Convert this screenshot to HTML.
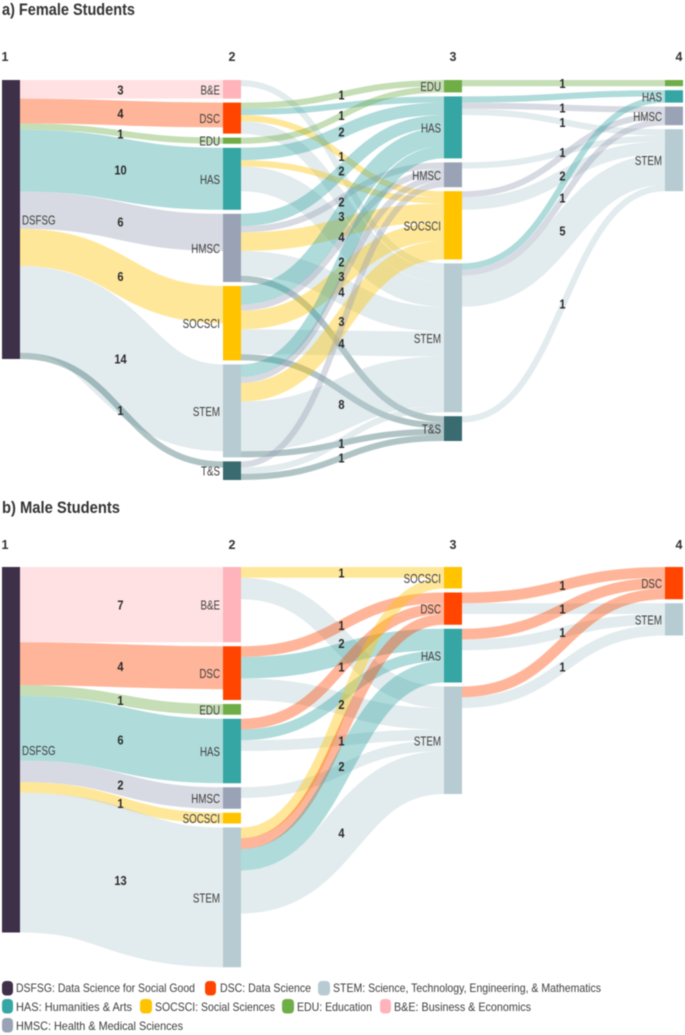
<!DOCTYPE html>
<html lang="en">
<head>
<meta charset="utf-8">
<title>Female and Male Student Pathways</title>
<style>
html,body{margin:0;padding:0;background:#fff;}
body{width:685px;height:1035px;overflow:hidden;}
svg{display:block;filter:blur(0.4px);font-family:"Liberation Sans",sans-serif;}
.title{font-size:17px;font-weight:700;fill:#333;}
.stage{font-size:12.5px;font-weight:700;fill:#333;}
.node-label{font-size:12.5px;fill:#3d3d3d;}
.flow-label{font-size:13px;font-weight:700;fill:#2b2b2b;}
.legend{font-size:12px;fill:#3d3d3d;}
</style>
</head>
<body>
<svg id="chart" width="685" height="1035" viewBox="0 0 685 1035" xmlns="http://www.w3.org/2000/svg">
  <text class="title" x="2" y="15" textLength="133" lengthAdjust="spacingAndGlyphs">a) Female Students</text>
  <text class="title" x="2" y="513" textLength="118" lengthAdjust="spacingAndGlyphs">b) Male Students</text>
  <g id="female-panel"></g>
  <g id="male-panel"></g>
  <g id="legend">
    <g><rect x="2" y="981" width="11" height="14.5" rx="4" fill="#3e3049"/><text class="legend" x="16" y="992" textLength="179" lengthAdjust="spacingAndGlyphs">DSFSG: Data Science for Social Good</text></g>
    <g><rect x="205" y="981" width="11" height="14.5" rx="4" fill="#ff4500"/><text class="legend" x="220" y="992" textLength="91" lengthAdjust="spacingAndGlyphs">DSC: Data Science</text></g>
    <g><rect x="318" y="981" width="12" height="14.5" rx="4" fill="#b6ccd2"/><text class="legend" x="333" y="992" textLength="268" lengthAdjust="spacingAndGlyphs">STEM: Science, Technology, Engineering, &amp; Mathematics</text></g>
    <g><rect x="2" y="999" width="11" height="14.5" rx="4" fill="#36a6a5"/><text class="legend" x="16" y="1011" textLength="116" lengthAdjust="spacingAndGlyphs">HAS: Humanities &amp; Arts</text></g>
    <g><rect x="140" y="999" width="12" height="14.5" rx="4" fill="#ffc300"/><text class="legend" x="155" y="1011" textLength="120" lengthAdjust="spacingAndGlyphs">SOCSCI: Social Sciences</text></g>
    <g><rect x="282" y="999" width="12" height="14.5" rx="4" fill="#6fad47"/><text class="legend" x="297" y="1011" textLength="75" lengthAdjust="spacingAndGlyphs">EDU: Education</text></g>
    <g><rect x="380" y="999" width="11" height="14.5" rx="4" fill="#ffb3ba"/><text class="legend" x="394" y="1011" textLength="137" lengthAdjust="spacingAndGlyphs">B&amp;E: Business &amp; Economics</text></g>
    <g><rect x="2" y="1018" width="11" height="14.5" rx="4" fill="#9aa3b6"/><text class="legend" x="16" y="1030" textLength="167" lengthAdjust="spacingAndGlyphs">HMSC: Health &amp; Medical Sciences</text></g>
  </g>
</svg>
<script>
// Stage categories, top to bottom
const femaleColumns = [
  ['DSFSG'],
  ['B&E','DSC','EDU','HAS','HMSC','SOCSCI','STEM','T&S'],
  ['EDU','HAS','HMSC','SOCSCI','STEM','T&S'],
  ['EDU','HAS','HMSC','STEM']
];
const maleColumns = [
  ['DSFSG'],
  ['B&E','DSC','EDU','HAS','HMSC','SOCSCI','STEM'],
  ['SOCSCI','DSC','HAS','STEM'],
  ['DSC','STEM']
];

// Flows: [source, target, students, printed value shown (1) or hidden (0)]
const femaleStage1 = [
  ['DSFSG','B&E',3,1],['DSFSG','DSC',4,1],['DSFSG','EDU',1,1],['DSFSG','HAS',10,1],
  ['DSFSG','HMSC',6,1],['DSFSG','SOCSCI',6,1],['DSFSG','STEM',14,1],['DSFSG','T&S',1,1]
];
const femaleStage2 = [
  ['B&E','STEM',1,0],
  ['DSC','EDU',1,1],['DSC','HAS',1,0],['DSC','SOCSCI',1,1],['DSC','STEM',2,1],
  ['EDU','EDU',1,1],
  ['HAS','HAS',2,1],['HAS','SOCSCI',1,0],['HAS','STEM',4,1],
  ['HMSC','HAS',2,1],['HMSC','HMSC',1,0],['HMSC','SOCSCI',3,0],['HMSC','STEM',4,1],['HMSC','T&S',1,0],
  ['SOCSCI','HAS',3,1],['SOCSCI','HMSC',1,0],['SOCSCI','SOCSCI',3,1],['SOCSCI','STEM',4,1],['SOCSCI','T&S',1,0],
  ['STEM','HAS',2,1],['STEM','HMSC',1,0],['STEM','SOCSCI',3,1],['STEM','STEM',8,1],['STEM','T&S',1,1],
  ['T&S','HMSC',1,0],['T&S','STEM',1,0],['T&S','T&S',1,1]
];
const femaleStage3 = [
  ['EDU','EDU',1,1],
  ['HAS','HAS',1,0],['HAS','HMSC',1,1],['HAS','STEM',1,1],
  ['HMSC','STEM',1,1],
  ['SOCSCI','HMSC',1,0],['SOCSCI','STEM',2,1],
  ['STEM','HAS',1,0],['STEM','HMSC',1,1],['STEM','STEM',5,1],
  ['T&S','STEM',1,1]
];
const maleStage1 = [
  ['DSFSG','B&E',7,1],['DSFSG','DSC',4,1],['DSFSG','EDU',1,1],['DSFSG','HAS',6,1],
  ['DSFSG','HMSC',2,1],['DSFSG','SOCSCI',1,1],['DSFSG','STEM',13,1]
];
const maleStage2 = [
  ['B&E','SOCSCI',1,1],['B&E','STEM',2,1],
  ['DSC','DSC',1,1],['DSC','HAS',2,0],['DSC','STEM',2,1],
  ['HAS','DSC',1,1],['HAS','HAS',1,0],['HAS','STEM',1,1],
  ['HMSC','STEM',1,0],
  ['STEM','SOCSCI',1,0],['STEM','DSC',1,0],['STEM','HAS',2,1],['STEM','STEM',4,1]
];
const maleStage3 = [
  ['DSC','DSC',1,1],['DSC','STEM',1,1],
  ['HAS','DSC',1,0],['HAS','STEM',1,1],
  ['STEM','DSC',1,0],['STEM','STEM',1,1]
];

// Appearance and layout, kept apart from the data
const categoryColors = {
  'DSFSG':'#3e3049','B&E':'#ffb3ba','DSC':'#ff4500','EDU':'#6fad47','HAS':'#36a6a5',
  'HMSC':'#9aa3b6','SOCSCI':'#ffc300','STEM':'#b6ccd2','T&S':'#396b70'
};
const NS = 'http://www.w3.org/2000/svg';
const NODE_WIDTH = 18;
const COLUMN_X = [2, 223, 444, 665];
const FLOW_OPACITY = 0.4;
const NODE_TEXT_CONDENSE = 0.78;
const VALUE_TEXT_CONDENSE = 0.85;

function slug(s){ return s.toLowerCase().replace(/[^a-z0-9]+/g,''); }

function make(parent, tag, attrs, text){
  const el = document.createElementNS(NS, tag);
  for (const k in attrs) el.setAttribute(k, attrs[k]);
  if (text !== undefined) el.textContent = text;
  parent.appendChild(el);
  return el;
}

function condense(textEl, factor){
  const len = textEl.getComputedTextLength();
  textEl.setAttribute('textLength', (len * factor).toFixed(2));
  textEl.setAttribute('lengthAdjust', 'spacingAndGlyphs');
}

function drawPanel(parentId, panel, columns, stages, topY, stageLabelY, unit, gap, hiddenLabels){
  const root = document.getElementById(parentId);
  const scaleH = v => v * unit;

  // node sizes: the larger of inflow and outflow in each column
  const totals = columns.map((names, c) => names.map(name => {
    const inflow = c > 0 ? stages[c-1].filter(f => f[1] === name).reduce((a,f) => a + f[2], 0) : 0;
    const outflow = c < stages.length ? stages[c].filter(f => f[0] === name).reduce((a,f) => a + f[2], 0) : 0;
    return Math.max(inflow, outflow);
  }));

  // node positions
  const nodeY = columns.map((names, c) => {
    const pos = {};
    let y = topY;
    names.forEach((name, i) => { pos[name] = y; y += scaleH(totals[c][i]) + gap; });
    return pos;
  });

  // flows
  const flowGroup = make(root, 'g', {});
  
  
  const labelGroup = [];
  stages.forEach((flows, s) => {
    const outOffset = {}, inOffset = {};
    const x0 = COLUMN_X[s] + NODE_WIDTH, x1 = COLUMN_X[s+1], xm = (x0 + x1) / 2;
    flows.forEach(f => {
      const src = f[0], tgt = f[1], val = f[2], showLabel = f[3];
      const w = scaleH(val);
      const y0 = nodeY[s][src] + (outOffset[src] || 0) + w / 2;
      const y1 = nodeY[s+1][tgt] + (inOffset[tgt] || 0) + w / 2;
      outOffset[src] = (outOffset[src] || 0) + w;
      inOffset[tgt] = (inOffset[tgt] || 0) + w;
      const p = make(flowGroup, 'path', {
        d: 'M' + x0 + ' ' + y0 + 'C' + xm + ' ' + y0 + ' ' + xm + ' ' + y1 + ' ' + x1 + ' ' + y1,
        fill: 'none', stroke: categoryColors[tgt], 'stroke-width': w, 'stroke-opacity': FLOW_OPACITY
      });
      
      
      if (showLabel) labelGroup.push({x: xm - 1, y: (y0 + y1) / 2 + 1.5, val: val, name: panel + '-flow-value-' + slug(src) + '-to-' + slug(tgt) + '-stage-' + (s+1)});
    });
  });

  // nodes
  columns.forEach((names, c) => {
    names.forEach((name, i) => {
      const h = scaleH(totals[c][i]);
      const y = nodeY[c][name];
      const r = make(root, 'rect', {x: COLUMN_X[c], y: y, width: NODE_WIDTH, height: h, fill: categoryColors[name]});
      
      
      if (hiddenLabels.indexOf(c + ':' + name) >= 0) return;
      const left = c === 0;
      const t = make(root, 'text', {
        class: 'node-label',
        x: left ? COLUMN_X[c] + NODE_WIDTH + 2 : COLUMN_X[c] - 3,
        y: y + h / 2 + 5,
        'text-anchor': left ? 'start' : 'end'
      }, name);
      
      
      condense(t, NODE_TEXT_CONDENSE);
    });

    const stageX = c === 0 ? 5 : (c === 3 ? 679 : COLUMN_X[c] + NODE_WIDTH / 2);
    const st = make(root, 'text', {class: 'stage', x: stageX, y: stageLabelY, 'text-anchor': 'middle'}, String(c + 1));
    
    
  });

  // printed values on flows
  labelGroup.forEach(l => {
    const t = make(root, 'text', {class: 'flow-label', x: l.x, y: l.y + 3.5, 'text-anchor': 'middle'}, String(l.val));
    
    
    condense(t, VALUE_TEXT_CONDENSE);
  });
}

drawPanel('female-panel', 'female', femaleColumns, [femaleStage1, femaleStage2, femaleStage3], 80, 61, 6.2, 4, ['3:EDU']);
drawPanel('male-panel', 'male', maleColumns, [maleStage1, maleStage2, maleStage3], 567, 549, 10.75, 4, []);
</script>
</body>
</html>
